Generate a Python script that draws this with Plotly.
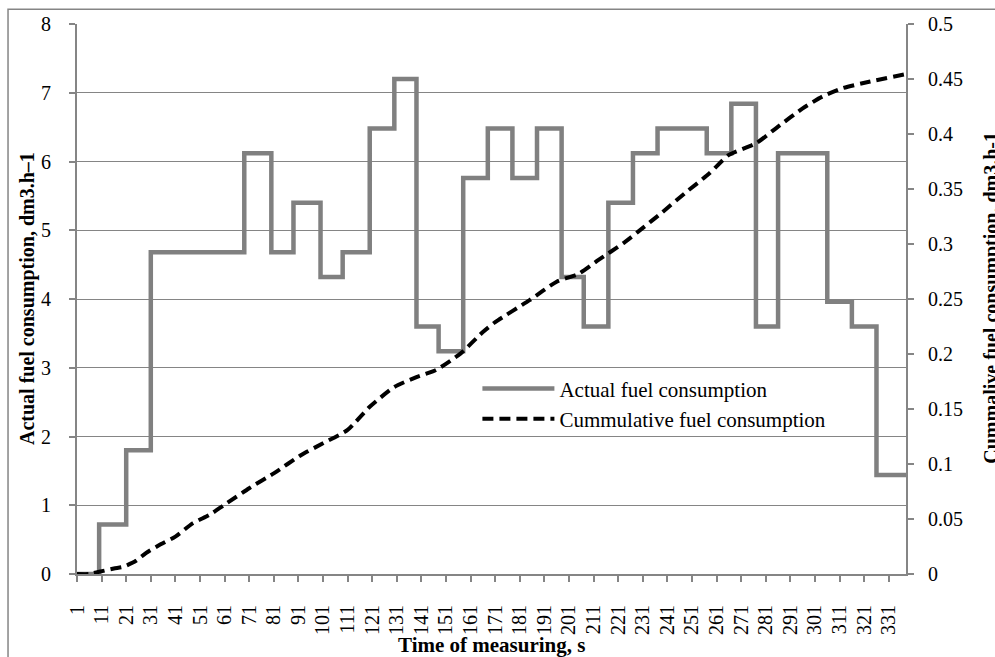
import plotly.graph_objects as go

# ---- data ----
# Actual fuel consumption (step changes): time where a new level starts, level value
time_breaks = [1, 10, 21, 31, 69, 80, 89, 100, 109, 120, 130, 139, 148, 158, 168,
               178, 188, 198, 207, 217, 227, 237, 257, 267, 277, 286, 306, 316, 326, 338]
actual = [0, 0.72, 1.8, 4.68, 6.12, 4.68, 5.4, 4.32, 4.68, 6.48, 7.2, 3.6, 3.24, 5.76, 6.48,
          5.76, 6.48, 4.32, 3.6, 5.4, 6.12, 6.48, 6.12, 6.84, 3.6, 6.12, 3.96, 3.6, 1.44, 1.44]

# Cumulative fuel consumption
cum_time = [1, 6, 10, 16, 20, 25, 29, 35, 41, 48, 55, 61, 71, 81, 92, 101, 111, 120, 130,
            139, 147, 157, 166, 171, 185, 196, 205, 213, 223, 229, 239, 248, 258, 266, 277,
            286, 296, 304, 312, 323, 338]
cumulative = [0, 0, 0.002, 0.005, 0.0067, 0.012, 0.019, 0.027, 0.034, 0.046, 0.054, 0.063,
              0.078, 0.0915, 0.108, 0.1188, 0.131, 0.152, 0.170, 0.179, 0.1855, 0.2006, 0.22,
              0.229, 0.249, 0.2657, 0.273, 0.2855, 0.3006, 0.311, 0.329, 0.346, 0.364, 0.381,
              0.3915, 0.4067, 0.4233, 0.434, 0.4415, 0.4475, 0.4545]

x_ticks = list(range(1, 332, 10))
x_tick_labels = [str(v) for v in x_ticks]

x_title = "Time of measuring, s"
y_title = "Actual fuel consumption, dm3.h–1"
y2_title = "Cummalive fuel consumption, dm3.h-1"

GRAY = "#858585"
FONT = "Liberation Serif"
PAD = "\u00a0\u00a0\u00a0"  # spacing between rotated labels and the axis

fig = go.Figure()
fig.add_trace(go.Scatter(
    x=time_breaks, y=actual, mode="lines", name="Actual fuel consumption",
    line=dict(color="#808080", width=4.5, shape="hv"), yaxis="y"))
fig.add_trace(go.Scatter(
    x=cum_time, y=cumulative, mode="lines", name="Cummulative fuel consumption",
    line=dict(color="#000000", width=4, dash="11px,6px", shape="spline", smoothing=0.6),
    yaxis="y2"))

title_font = dict(family=FONT, size=20, color="black")

fig.update_layout(
    width=995, height=657,
    margin=dict(l=77, r=89, t=24, b=83, autoexpand=False),
    paper_bgcolor="white", plot_bgcolor="white",
    font=dict(family=FONT, size=20, color="black"),
    showlegend=True,
    legend=dict(x=0.483, y=0.374, xanchor="left", yanchor="top",
                bgcolor="rgba(0,0,0,0)", font=dict(family=FONT, size=21),
                itemwidth=72, tracegroupgap=0),
    xaxis=dict(range=[1, 338], tickmode="array", tickvals=x_ticks,
               ticktext=[t + PAD for t in x_tick_labels],
               tickangle=-90, showgrid=False, zeroline=False,
               showline=True, linecolor=GRAY, linewidth=2,
               ticks="outside", ticklen=6, tickwidth=2, tickcolor=GRAY,
               tickfont=dict(family=FONT, size=20, color="black")),
    yaxis=dict(range=[0, 8], dtick=1, tick0=0, showgrid=True, gridcolor=GRAY, gridwidth=1.3,
               zeroline=False, showline=True, linecolor=GRAY, linewidth=2,
               ticks="outside", ticklen=6, tickwidth=2, tickcolor=GRAY,
               ticklabelstandoff=14,
               tickfont=dict(family=FONT, size=20, color="black")),
    yaxis2=dict(range=[0, 0.5], dtick=0.05, tick0=0, overlaying="y", side="right",
                showgrid=False, zeroline=False, showline=True, linecolor=GRAY, linewidth=2,
                ticks="outside", ticklen=6, tickwidth=2, tickcolor=GRAY,
                ticklabelstandoff=10,
                tickfont=dict(family=FONT, size=20, color="black")),
    annotations=[
        dict(text=f"<b>{x_title}</b>", xref="paper", yref="paper", x=0.5, y=-0.129,
             xanchor="center", yanchor="middle", showarrow=False,
             font=dict(family=FONT, size=21, color="black")),
        dict(text=f"<b>{y_title}</b>", xref="paper", yref="paper", x=-0.0603, y=0.5,
             xanchor="center", yanchor="middle", textangle=-90, showarrow=False,
             font=title_font),
        dict(text=f"<b>{y2_title}</b>", xref="paper", yref="paper", x=1.1035, y=0.502,
             xanchor="center", yanchor="middle", textangle=-90, showarrow=False,
             font=title_font),
    ],
    shapes=[dict(type="rect", xref="paper", yref="paper",
                 x0=-0.0832, x1=1.12, y0=-0.17, y1=1.027,
                 line=dict(color=GRAY, width=1.5), fillcolor="rgba(0,0,0,0)", layer="below")],
)

fig.write_html("out.html", config={"displayModeBar": False},
               post_script="document.body.style.margin='0px';")
